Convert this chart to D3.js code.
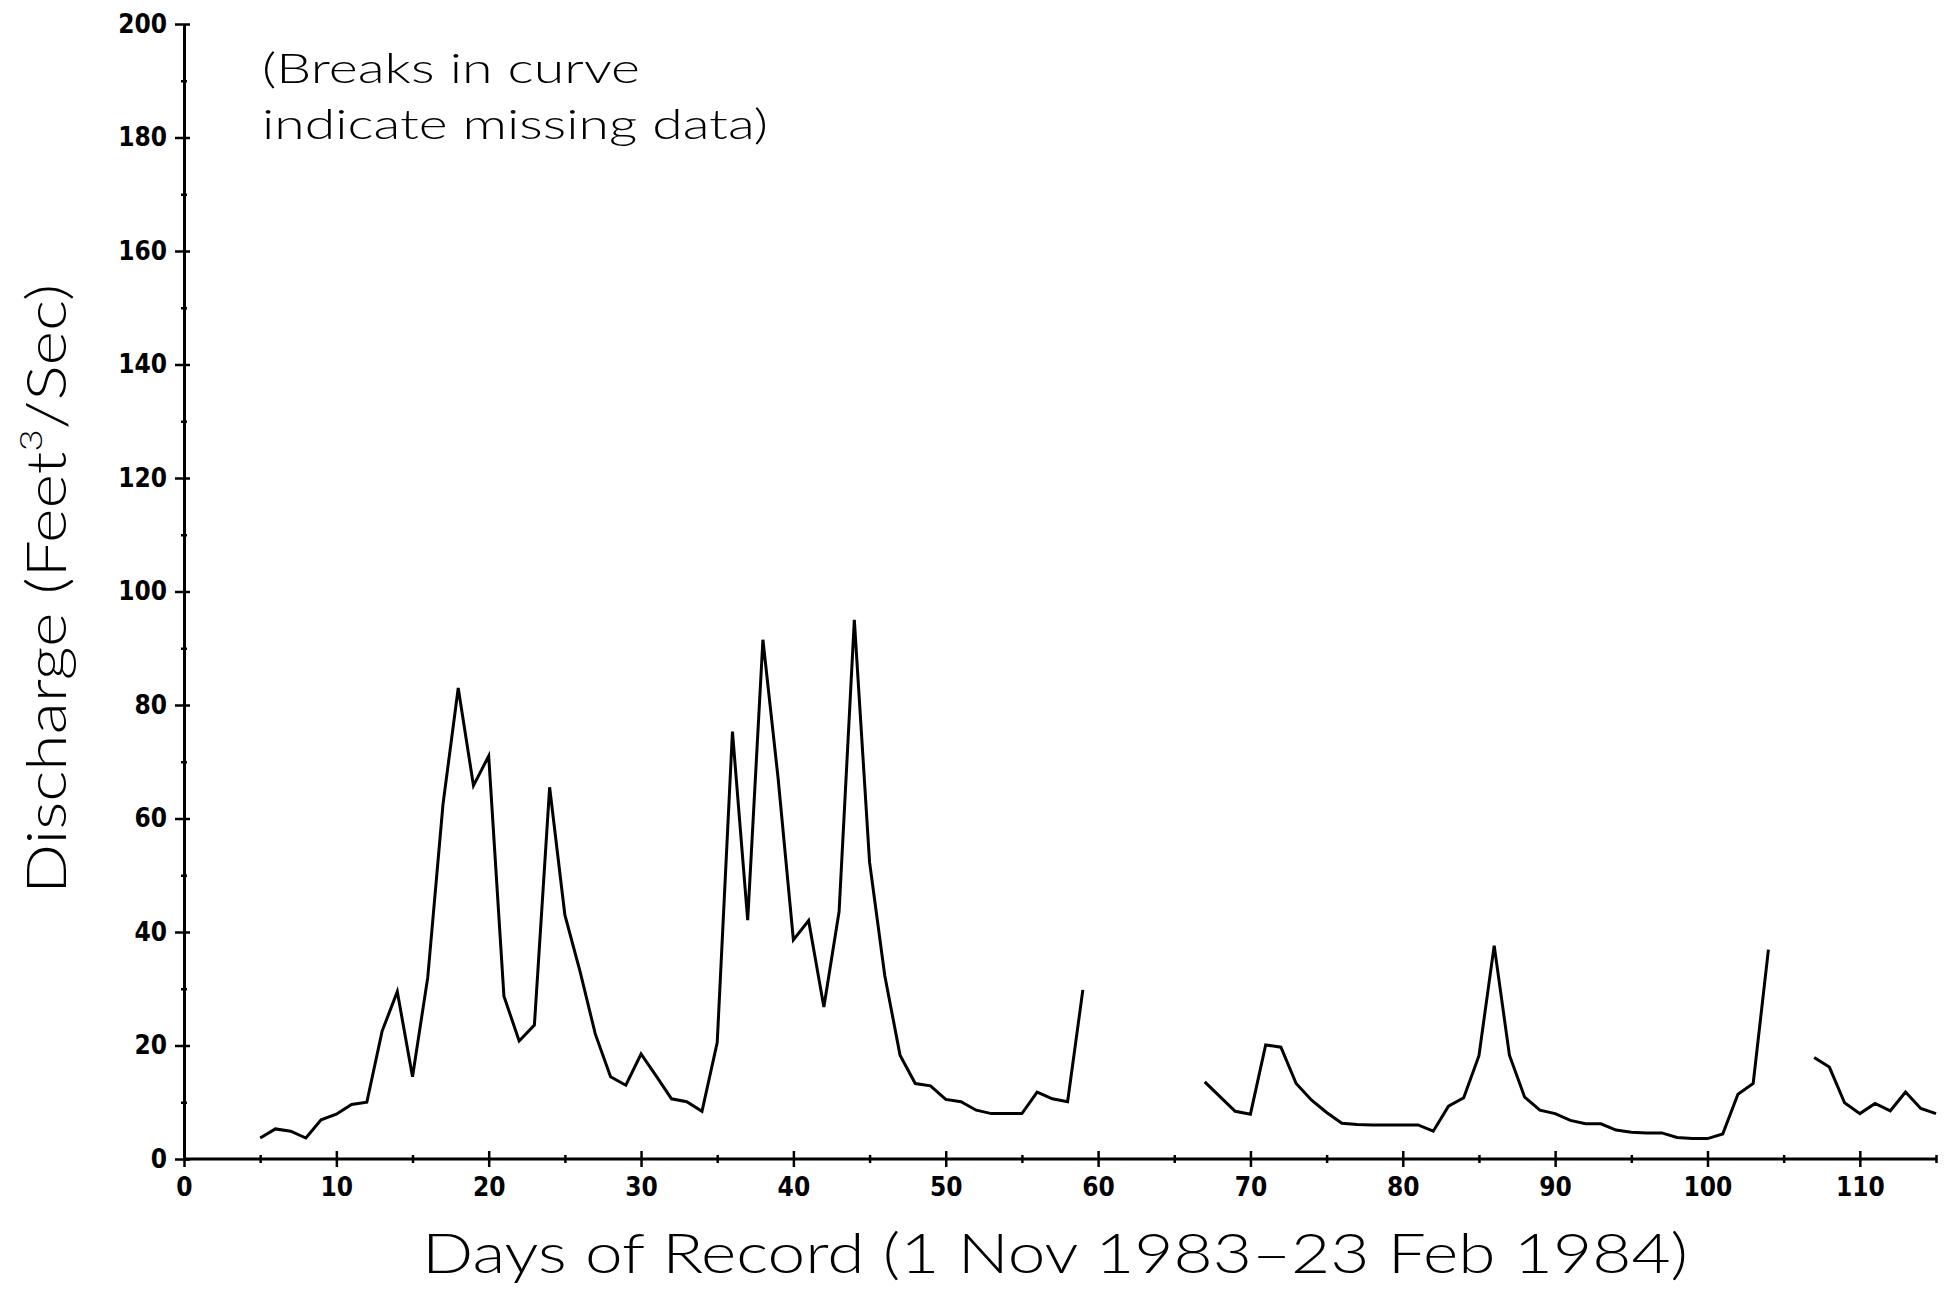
<!DOCTYPE html>
<html>
<head>
<meta charset="utf-8">
<script src="https://cdn.jsdelivr.net/npm/d3@7"></script>
<style>
  body { margin: 0; background: #fff; }
  .tick text { font-family: "DejaVu Sans Condensed", "DejaVu Sans", sans-serif; font-weight: bold; font-size: 26px; fill: #000; }
  .thin { font-family: "Lato", "DejaVu Sans", sans-serif; font-weight: 300; fill: #000; }
</style>
</head>
<body>
<div id="chart"></div>
<script>

var svgWidth = 1952;
var svgHeight = 1289;

// daily discharge, day 5 .. day 115 (null = missing record)
var firstDay = 5;
var discharge = [
  3.7, 5.3, 4.9, 3.7, 6.9, 7.9, 9.6, 10.0, 22.5, 29.5,      // 5-14
  14.5, 32, 62.5, 83, 65.8, 71, 28.7, 20.8, 23.6, 65.5,      // 15-24
  43, 33, 22, 14.5, 13, 18.5, 14.6, 10.6, 10.1, 8.4,         // 25-34
  20.5, 75.3, 42.1, 91.5, 67, 38.6, 42, 26.8, 43.6, 95,      // 35-44
  52.3, 32.3, 18.3, 13.3, 12.9, 10.5, 10.1, 8.6, 8.0, 8.0,   // 45-54
  8.0, 11.8, 10.6, 10.1, 29.8,                               // 55-59
  null, null, null, null, null, null, null,                  // 60-66
  13.6, 11, 8.4, 7.9, 20.1, 19.7, 13.3, 10.4, 8.2, 6.3,      // 67-76
  6.1, 6.0, 6.0, 6.0, 6.0, 4.9, 9.3, 10.8, 18.2, 37.6,       // 77-86
  18.3, 10.9, 8.6, 8.0, 6.8, 6.2, 6.2, 5.1, 4.7, 4.6,        // 87-96
  4.6, 3.8, 3.6, 3.6, 4.4, 11.4, 13.3, 36.9,                 // 97-104
  null, null,                                                // 105-106
  17.9, 16.2, 9.9, 8.0, 9.8, 8.5, 11.8, 8.9, 8.0             // 107-115
];

var xMajorTicks = [0, 10, 20, 30, 40, 50, 60, 70, 80, 90, 100, 110];
var xMinorTicks = [5, 15, 25, 35, 45, 55, 65, 75, 85, 95, 105, 115];
var yMajorTicks = [0, 20, 40, 60, 80, 100, 120, 140, 160, 180, 200];
var yMinorTicks = [10, 30, 50, 70, 90, 110, 130, 150, 170, 190];

var xTitle = "Days of Record (1 Nov 1983\u201323 Feb 1984)";
var noteLines = ["(Breaks in curve", "indicate missing data)"];

var svg = d3.select("#chart")
  .append("svg")
  .attr("width", svgWidth)
  .attr("height", svgHeight);

var x = d3.scaleLinear().domain([0, 115]).range([184, 1936]);
var y = d3.scaleLinear().domain([0, 200]).range([1159, 24]);

// axes: ticks cross the axis line, so stretch them after d3 draws them
var xAxis = svg.append("g")
  .attr("transform", "translate(0," + y(0) + ")")
  .call(d3.axisBottom(x).tickValues(xMajorTicks).tickSize(8).tickPadding(11).tickSizeOuter(0));
xAxis.selectAll(".tick line").attr("y1", -8).attr("stroke-width", 2.5);
xAxis.select(".domain").attr("stroke-width", 3).attr("d", "M" + x(0) + ",0H" + x(115));

var xMinor = svg.append("g")
  .attr("transform", "translate(0," + y(0) + ")")
  .call(d3.axisBottom(x).tickValues(xMinorTicks).tickSize(4).tickFormat(""));
xMinor.select(".domain").remove();
xMinor.selectAll(".tick line").attr("y1", -4).attr("stroke-width", 2.5);

var yAxis = svg.append("g")
  .attr("transform", "translate(" + x(0) + ",0)")
  .call(d3.axisLeft(y).tickValues(yMajorTicks).tickSize(9).tickPadding(8).tickSizeOuter(0));
yAxis.selectAll(".tick line").attr("x1", 6).attr("stroke-width", 2.5);
yAxis.select(".domain").attr("stroke-width", 3);

var yMinor = svg.append("g")
  .attr("transform", "translate(" + x(0) + ",0)")
  .call(d3.axisLeft(y).tickValues(yMinorTicks).tickSize(3).tickFormat(""));
yMinor.select(".domain").remove();
yMinor.selectAll(".tick line").attr("x1", 3).attr("stroke-width", 2.5);

// discharge curve, gaps where data is missing
var line = d3.line()
  .defined(function (d) { return d != null; })
  .x(function (d, i) { return x(firstDay + i); })
  .y(function (d) { return y(d); });

svg.append("path")
  .datum(discharge)
  .attr("fill", "none")
  .attr("stroke", "#000")
  .attr("stroke-width", 3)
  .attr("stroke-linejoin", "miter")
  .attr("d", line);

// titles
svg.append("text")
  .attr("class", "thin")
  .attr("x", 422)
  .attr("y", 1273)
  .attr("font-size", "55px")
  .attr("textLength", 1266)
  .attr("lengthAdjust", "spacingAndGlyphs")
  .text(xTitle);

var yTitle = svg.append("text")
  .attr("class", "thin")
  .attr("transform", "translate(66, 894) rotate(-90)")
  .attr("font-size", "55px")
  .attr("textLength", 610)
  .attr("lengthAdjust", "spacingAndGlyphs");
yTitle.append("tspan").text("Discharge (Feet");
yTitle.append("tspan").attr("dy", -24).attr("font-size", "32px").text("3");
yTitle.append("tspan").attr("dy", 24).text("/Sec)");

svg.selectAll("text.note")
  .data(noteLines)
  .enter()
  .append("text")
  .attr("class", "note thin")
  .attr("x", 262)
  .attr("y", function (d, i) { return 83 + i * 56; })
  .attr("font-size", "42px")
  .attr("textLength", function (d, i) { return i == 0 ? 378 : 506; })
  .attr("lengthAdjust", "spacingAndGlyphs")
  .text(function (d) { return d; });

</script>
</body>
</html>
